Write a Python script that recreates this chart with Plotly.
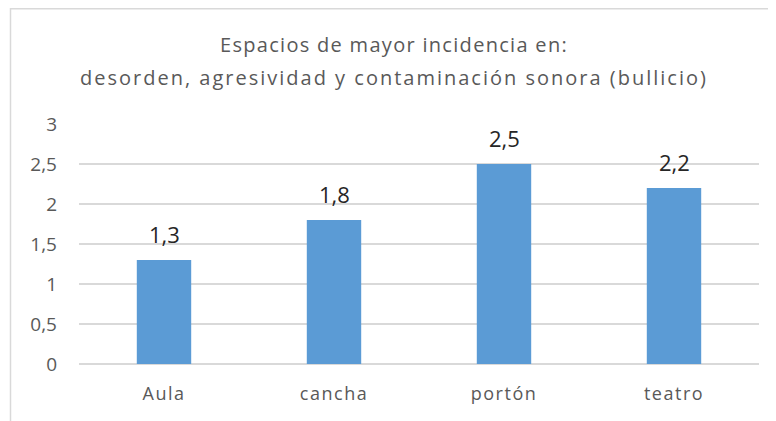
import plotly.graph_objects as go

categories = ["Aula", "cancha", "portón", "teatro"]
values = [1.3, 1.8, 2.5, 2.2]
labels = ["1,3", "1,8", "2,5", "2,2"]
title_lines = ["Espacios de mayor incidencia en:",
               "desorden, agresividad y contaminación sonora (bullicio)"]

FONT = "Open Sans"
W, H = 776, 421
# the page body adds an 8px offset, so the figure is laid out 8px up/left
ml, mr, mt, mb = 71, 25, 116, 65
pw, ph = W - ml - mr, H - mt - mb


def spaced(s, px):
    return f'<span style="letter-spacing:{px}px">{s}</span>'


fig = go.Figure()
fig.add_trace(go.Bar(x=categories, y=values, marker=dict(color="#5B9BD5", line=dict(width=0)),
                     width=0.32, hoverinfo="skip"))

for c, v, t in zip(categories, values, labels):
    fig.add_annotation(x=c, y=v, text=t, showarrow=False, yanchor="bottom", yshift=9,
                       font=dict(family=FONT, size=22, color="#262626"))

# second title line
fig.add_annotation(xref="paper", yref="paper", x=(386 - ml) / pw, y=(H - mb - 69) / ph,
                   xanchor="center", yanchor="middle", showarrow=False,
                   text=spaced(title_lines[1], 2.0),
                   font=dict(family=FONT, size=20, color="#595959"))

fig.add_shape(type="rect", xref="paper", yref="paper",
              x0=(2.5 - ml) / pw, x1=(W + 20 - ml) / pw,
              y0=-(H + 20 - mt - ph) / ph, y1=(H - mb - 0.75) / ph,
              line=dict(color="#D9D9D9", width=1.5), fillcolor="rgba(0,0,0,0)", layer="below")

fig.update_layout(
    width=W, height=H,
    margin=dict(l=ml, r=mr, t=mt, b=mb),
    paper_bgcolor="white", plot_bgcolor="white",
    separators=",.",
    showlegend=False,
    title=dict(text=spaced(title_lines[0], 1.3), x=386 / W, xanchor="center",
               y=1 - 37 / H, yanchor="middle",
               font=dict(family=FONT, size=20, color="#595959")),
    font=dict(family=FONT, color="#595959"),
    xaxis=dict(showgrid=False, showline=False, ticks="",
               tickmode="array", tickvals=categories,
               ticktext=[spaced(c, 1.5) for c in categories],
               tickfont=dict(size=18, color="#595959"),
               ticklabelstandoff=17),
    yaxis=dict(range=[0, 3], dtick=0.5, showgrid=True, gridcolor="#D9D9D9", gridwidth=1.5,
               zeroline=True, zerolinecolor="#D9D9D9", zerolinewidth=1.5,
               showline=False, ticks="", tickfont=dict(size=19, color="#595959"),
               ticklabelstandoff=21),
)

fig.write_html("out.html")
